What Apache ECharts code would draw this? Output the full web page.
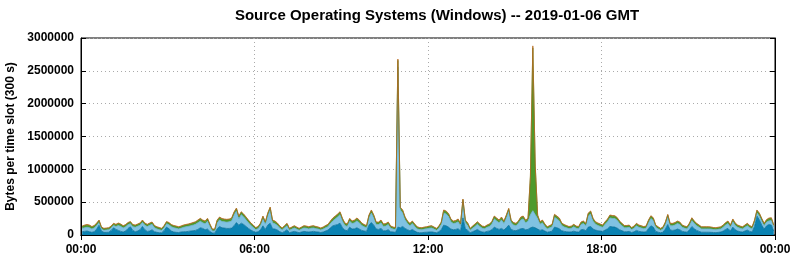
<!DOCTYPE html>
<html>
<head>
<meta charset="utf-8">
<script src="https://cdn.jsdelivr.net/npm/echarts@6/dist/echarts.min.js"></script>
<style>
html,body{margin:0;padding:0;background:#fff;}
#c{width:795px;height:260px;}
</style>
</head>
<body>
<div id="c"></div>
<script>
// Values are in thousands of bytes per 300 s slot; one value per 5-minute slot (288 slots).
const tickLabelsX = ['00:00','06:00','12:00','18:00','00:00'];
const tickLabelsY = ['0','500000','1000000','1500000','2000000','2500000','3000000'];
const seriesNames = ['Windows A','Windows B','Windows C','Windows D'];

const darkBlue = [
50,55,60,50,40,50,90,150,60,40,40,42,70,110,85,70,55,45,60,100,
125,70,50,60,80,130,80,55,60,80,50,40,35,35,70,120,95,60,45,40,
38,45,50,50,55,60,65,70,85,110,100,80,90,55,30,28,95,130,110,105,
100,100,105,140,190,150,180,160,130,100,75,55,40,50,80,140,85,150,180,95,
90,75,50,35,55,80,35,45,55,45,35,45,55,50,45,50,55,48,45,38,
45,60,75,110,140,150,160,180,110,75,65,120,90,95,110,90,70,60,55,150,
190,150,90,85,100,65,65,80,50,45,40,120,110,130,100,80,65,85,60,40,
35,35,40,42,45,48,40,35,50,80,150,140,120,90,80,85,95,65,260,95,
70,35,50,65,85,60,45,42,55,62,80,120,100,85,100,75,110,150,85,70,
65,80,95,100,80,85,110,120,110,90,70,80,60,42,50,58,120,110,95,65,
55,50,45,48,58,48,45,80,85,65,120,130,90,75,65,60,55,75,95,130,
125,120,105,80,65,50,50,55,38,48,70,55,50,45,48,100,140,120,55,42,
35,42,90,160,75,70,75,90,80,55,48,42,80,130,95,70,55,42,42,42,
42,40,38,36,40,45,60,85,100,60,120,80,60,50,45,60,75,55,45,130,
290,230,150,90,140,160,150,60
];
const lightBlue = [
50,55,58,60,52,56,55,40,30,32,37,39,35,35,45,75,75,62,65,56,
47,56,68,73,68,62,68,73,88,83,60,52,46,36,42,52,60,65,65,62,
55,58,66,74,76,80,85,92,100,100,85,90,120,75,32,34,90,100,95,95,
95,100,108,165,176,95,130,115,100,85,70,60,42,46,65,105,80,140,200,90,
80,70,53,42,55,60,37,45,52,45,37,45,52,53,48,53,52,48,45,39,
45,50,52,65,75,95,115,130,100,70,65,90,85,90,105,95,75,64,55,110,
145,110,70,75,85,65,72,80,53,45,43,2440,270,205,130,95,75,90,70,53,
48,45,50,52,58,59,50,37,53,80,185,180,165,110,95,97,105,75,240,90,
75,37,53,65,80,70,58,54,62,68,88,125,115,100,130,100,150,210,100,82,
75,95,135,145,105,125,200,250,200,160,95,105,70,51,60,67,150,135,120,80,
68,60,51,55,67,55,51,80,90,75,170,190,120,90,80,70,62,90,105,130,
127,130,118,95,75,60,60,62,45,55,70,62,57,51,55,85,110,99,62,51,
37,48,70,110,65,70,77,85,80,62,55,51,65,90,80,70,62,51,51,51,
51,50,45,44,47,48,57,67,75,57,80,65,57,53,48,57,65,55,48,65,
45,60,60,50,57,55,70,57
];
const green = [
28,32,32,32,28,30,28,28,24,22,22,22,24,24,24,28,28,26,26,25,
25,25,25,26,26,26,26,26,26,26,26,25,25,23,24,25,26,26,26,26,
25,26,27,27,28,29,31,32,33,34,33,33,34,29,21,21,33,34,36,34,
34,34,36,35,35,34,35,35,34,33,29,28,24,25,29,34,29,35,36,33,
33,29,26,22,27,29,22,24,27,24,22,24,27,26,25,26,27,25,24,22,
24,27,27,29,34,34,35,35,34,29,29,34,29,33,34,33,29,27,27,35,
36,35,29,29,33,29,29,29,26,24,23,100,33,36,34,29,29,29,29,25,
23,23,24,24,26,27,24,22,26,29,36,36,35,34,29,29,34,29,38,33,
29,22,26,29,29,29,26,25,27,29,29,34,34,33,34,29,35,37,33,29,
29,29,34,34,33,34,570,2480,736,45,29,33,29,25,27,29,35,34,34,29,
28,27,25,26,29,26,25,29,29,29,35,36,34,29,29,29,27,29,34,35,
35,34,34,29,29,27,27,27,23,26,29,27,27,25,26,33,34,34,27,25,
22,24,29,35,29,29,29,29,29,27,26,25,29,34,29,29,27,25,25,25,
25,24,23,23,24,25,27,29,29,27,34,29,27,26,25,27,29,27,25,23,
36,35,34,29,29,34,33,27
];
const orange = [
9,10,10,10,9,9,10,10,8,8,8,8,8,9,9,10,10,9,9,9,
9,9,9,9,9,10,9,9,9,9,9,9,8,8,9,9,9,9,9,9,
8,8,9,9,9,9,9,9,10,10,10,10,10,9,8,8,10,10,10,10,
10,10,10,10,10,10,10,10,10,10,9,9,8,8,9,10,9,10,10,10,
10,9,8,8,8,9,8,8,8,8,8,8,8,8,8,8,8,8,8,8,
8,8,9,9,10,10,10,10,10,9,9,10,9,10,10,10,9,9,8,10,
10,10,9,9,10,9,9,9,8,8,8,20,10,10,10,9,9,9,9,8,
8,8,8,8,8,8,8,8,8,9,10,10,10,10,9,10,10,9,10,10,
9,8,8,9,9,9,8,8,8,9,9,10,10,10,10,9,10,10,10,9,
9,9,10,10,10,10,20,30,20,10,9,10,9,8,8,9,10,10,10,9,
9,8,8,8,9,8,8,9,9,9,10,10,10,9,9,9,8,9,10,10,
10,10,10,9,9,8,8,8,8,8,9,8,8,8,8,10,10,10,8,8,
8,8,9,10,9,9,9,9,9,8,8,8,9,9,9,9,8,8,8,8,
8,8,8,8,8,8,8,9,9,8,10,9,8,8,8,8,9,8,8,10,
10,10,10,9,10,10,10,8
];

// Tick axis: 289 slot edges (00:00 .. 24:00). Data axis: 288 slots, each value drawn at its slot centre.
const slotCount = 288;
const edges = Array.from({length: slotCount + 1}, (_, i) => i * 5);
const slots = Array.from({length: slotCount}, (_, i) => i * 5);
const slotsPerTick = 72; // 6 hours

const layers = [
  {name: seriesNames[0], data: darkBlue, color: '#0a82b2', line: '#077099'},
  {name: seriesNames[1], data: lightBlue, color: '#80c2e2', line: '#6bb0d4'},
  {name: seriesNames[2], data: green, color: '#4e9a2c', line: '#418b22'},
  {name: seriesNames[3], data: orange, color: '#c8782a', line: '#b86a20'}
];

const chart = echarts.init(document.getElementById('c'), null, {renderer:'canvas'});
const font = 'Liberation Sans, Arial, sans-serif';
const tickEvery = idx => idx % slotsPerTick === 0;
const fmtX = (v, idx) => tickLabelsX[Math.round(idx / slotsPerTick)];
const fmtY = v => tickLabelsY[Math.round(v/500000)];

chart.setOption({
  animation: false,
  backgroundColor: '#fff',
  title: {
    text: 'Source Operating Systems (Windows) -- 2019-01-06 GMT',
    left: 432, top: 3, textAlign: 'center',
    textStyle: {fontFamily: font, fontSize: 15, fontWeight: 'bold', color: '#000'}
  },
  grid: {left: 81, right: 20, top: 38, bottom: 25, show: true, borderColor: '#000', borderWidth: 1,
         containLabel: false, outerBoundsMode: 'none'},
  xAxis: [{
    type: 'category', data: edges, boundaryGap: false,
    axisLine: {show: true, lineStyle: {color: '#000', width: 1}},
    axisTick: {show: true, inside: true, length: 5, interval: tickEvery, lineStyle: {color: '#000'}},
    axisLabel: {interval: tickEvery, formatter: fmtX, fontFamily: font, fontSize: 12, fontWeight: 'bold', color: '#000', margin: 9},
    splitLine: {show: true, interval: tickEvery, lineStyle: {color: '#aaa', type: [1,3], width: 1}}
  },{
    type: 'category', data: slots, boundaryGap: true, position: 'top',
    axisLine: {show: true, lineStyle: {color: '#000'}},
    axisTick: {show: true, inside: true, length: 5, interval: tickEvery, lineStyle: {color: '#000'}},
    axisLabel: {show: false}, splitLine: {show: false}
  }],
  yAxis: [{
    type: 'value', min: 0, max: 3000000, interval: 500000,
    name: 'Bytes per time slot (300 s)', nameLocation: 'middle', nameGap: 61,
    nameTextStyle: {fontFamily: font, fontSize: 12, fontWeight: 'bold', color: '#000'},
    axisLine: {show: true, lineStyle: {color: '#000'}},
    axisTick: {show: true, inside: true, length: 5, lineStyle: {color: '#000'}},
    axisLabel: {formatter: fmtY, fontFamily: font, fontSize: 12, fontWeight: 'bold', color: '#000', margin: 7},
    splitLine: {show: true, lineStyle: {color: '#aaa', type: [1,3], width: 1}}
  },{
    type: 'value', min: 0, max: 3000000, interval: 500000, position: 'right',
    axisLine: {show: true, lineStyle: {color: '#000'}},
    axisTick: {show: true, inside: true, length: 5, lineStyle: {color: '#000'}},
    axisLabel: {show: false}, splitLine: {show: false}
  }],
  series: layers.map(l => ({
    name: l.name, type: 'line', stack: 'total', symbol: 'none',
    xAxisIndex: 1, yAxisIndex: 0,
    data: l.data.map(v => v * 1000),
    lineStyle: {color: l.line, width: 0.8},
    areaStyle: {color: l.color, opacity: 1},
    itemStyle: {color: l.color},
    z: 2
  }))
});
</script>
</body>
</html>
